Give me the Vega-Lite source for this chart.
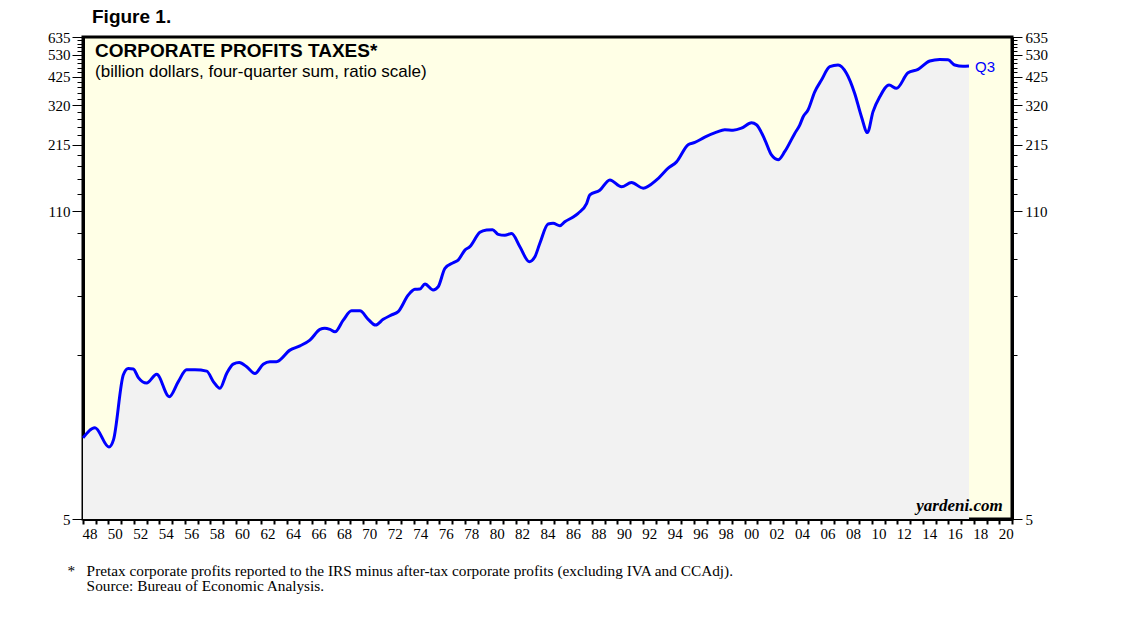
{
  "$schema": "https://vega.github.io/schema/vega-lite/v6.json",
  "width": 929,
  "height": 482,
  "autosize": "none",
  "padding": {"left": 83, "top": 37, "right": 126, "bottom": 102},
  "background": "white",
  "title": {"text": "Figure 1.", "anchor": "start", "frame": "group", "dx": 9, "offset": 3, "font": "Liberation Sans", "fontSize": 19, "fontWeight": "bold", "color": "black"},
  "config": {
    "view": {"fill": "#FFFFE6", "stroke": "black", "strokeWidth": 3},
    "axis": {"labelFont": "Liberation Serif", "labelColor": "black", "tickColor": "black", "domainColor": "black", "domainWidth": 3, "labelOverlap": false, "labelFlush": false, "labelBound": false, "grid": false, "zindex": 1}
  },
  "datasets": {
    "taxes": [
      {"year": 1948.0, "value": 11.3}, {"year": 1948.94, "value": 12.5}, {"year": 1950.04, "value": 10.3}, {"year": 1950.4, "value": 11.1},
      {"year": 1951.17, "value": 21.3}, {"year": 1951.56, "value": 22.7}, {"year": 1951.95, "value": 22.6}, {"year": 1952.35, "value": 20.7},
      {"year": 1953.0, "value": 19.6}, {"year": 1953.79, "value": 21.4}, {"year": 1954.78, "value": 17.1}, {"year": 1955.49, "value": 19.9},
      {"year": 1956.14, "value": 22.4}, {"year": 1956.8, "value": 22.4}, {"year": 1957.72, "value": 22.1}, {"year": 1958.24, "value": 19.9},
      {"year": 1958.76, "value": 18.6}, {"year": 1959.29, "value": 21.6}, {"year": 1959.8, "value": 23.7}, {"year": 1960.28, "value": 24.1},
      {"year": 1960.86, "value": 23.1}, {"year": 1961.51, "value": 21.6}, {"year": 1962.16, "value": 23.7}, {"year": 1962.69, "value": 24.3},
      {"year": 1963.2, "value": 24.3}, {"year": 1964.26, "value": 27.3}, {"year": 1965.05, "value": 28.5}, {"year": 1965.83, "value": 30.2},
      {"year": 1966.62, "value": 33.6}, {"year": 1967.0, "value": 34.0}, {"year": 1967.4, "value": 33.6}, {"year": 1967.8, "value": 32.8},
      {"year": 1968.45, "value": 36.9}, {"year": 1969.1, "value": 40.5}, {"year": 1969.76, "value": 40.5}, {"year": 1970.41, "value": 37.2},
      {"year": 1970.99, "value": 35.1}, {"year": 1971.59, "value": 37.2}, {"year": 1972.25, "value": 38.9}, {"year": 1972.77, "value": 40.2},
      {"year": 1973.56, "value": 47.5}, {"year": 1974.08, "value": 50.3}, {"year": 1974.47, "value": 50.4}, {"year": 1974.87, "value": 53.1},
      {"year": 1975.52, "value": 50.0}, {"year": 1975.91, "value": 51.6}, {"year": 1976.44, "value": 62.1}, {"year": 1977.09, "value": 65.7},
      {"year": 1977.48, "value": 67.5}, {"year": 1978.01, "value": 74.6}, {"year": 1978.4, "value": 77.2}, {"year": 1979.19, "value": 89.2},
      {"year": 1979.71, "value": 91.3}, {"year": 1980.18, "value": 91.6}, {"year": 1980.62, "value": 87.4}, {"year": 1981.15, "value": 86.5},
      {"year": 1981.68, "value": 88.1}, {"year": 1982.33, "value": 77.2}, {"year": 1983.06, "value": 66.4}, {"year": 1983.51, "value": 69.8},
      {"year": 1983.9, "value": 79.9}, {"year": 1984.55, "value": 96.9}, {"year": 1984.94, "value": 97.6}, {"year": 1985.47, "value": 95.3},
      {"year": 1985.86, "value": 99.2}, {"year": 1986.52, "value": 104}, {"year": 1986.91, "value": 108}, {"year": 1987.57, "value": 119},
      {"year": 1987.83, "value": 130}, {"year": 1988.61, "value": 136}, {"year": 1989.4, "value": 151}, {"year": 1990.32, "value": 141},
      {"year": 1991.1, "value": 147}, {"year": 1992.02, "value": 139}, {"year": 1993.07, "value": 151}, {"year": 1993.98, "value": 170},
      {"year": 1994.64, "value": 181}, {"year": 1995.55, "value": 215}, {"year": 1996.08, "value": 220}, {"year": 1996.86, "value": 232},
      {"year": 1997.78, "value": 244}, {"year": 1998.43, "value": 250}, {"year": 1999.08, "value": 249}, {"year": 1999.74, "value": 254},
      {"year": 2000.53, "value": 268}, {"year": 2000.92, "value": 263}, {"year": 2001.58, "value": 226}, {"year": 2002.1, "value": 194},
      {"year": 2002.62, "value": 185}, {"year": 2003.15, "value": 201}, {"year": 2003.93, "value": 241}, {"year": 2004.32, "value": 262},
      {"year": 2004.59, "value": 285}, {"year": 2004.97, "value": 305}, {"year": 2005.5, "value": 366}, {"year": 2006.03, "value": 412},
      {"year": 2006.68, "value": 471}, {"year": 2007.33, "value": 479}, {"year": 2007.99, "value": 441}, {"year": 2008.64, "value": 360},
      {"year": 2009.17, "value": 285}, {"year": 2009.64, "value": 243}, {"year": 2010.08, "value": 300}, {"year": 2010.61, "value": 348},
      {"year": 2011.34, "value": 392}, {"year": 2011.92, "value": 379}, {"year": 2012.83, "value": 443}, {"year": 2013.62, "value": 459},
      {"year": 2014.54, "value": 499}, {"year": 2015.32, "value": 507}, {"year": 2015.97, "value": 505}, {"year": 2016.5, "value": 479},
      {"year": 2017.15, "value": 473}, {"year": 2017.62, "value": 474}
    ]
  },
  "layer": [
    {
      "data": {"name": "taxes"},
      "mark": {"type": "area", "fill": "#F2F2F2", "interpolate": "monotone"},
      "encoding": {
        "x": {
          "field": "year", "type": "quantitative",
          "scale": {"domain": [1948, 2021], "nice": false, "zero": false},
          "axis": {
            "orient": "bottom",
            "values": [1948,1949,1950,1951,1952,1953,1954,1955,1956,1957,1958,1959,1960,1961,1962,1963,1964,1965,1966,1967,1968,1969,1970,1971,1972,1973,1974,1975,1976,1977,1978,1979,1980,1981,1982,1983,1984,1985,1986,1987,1988,1989,1990,1991,1992,1993,1994,1995,1996,1997,1998,1999,2000,2001,2002,2003,2004,2005,2006,2007,2008,2009,2010,2011,2012,2013,2014,2015,2016,2017,2018,2019,2020,2021],
            "labelExpr": "datum.value % 2 == 0 && datum.value <= 2020 ? format(datum.value % 100, '02d') : ''",
            "labelOffset": 6.4, "tickSize": 5, "tickWidth": 2, "labelFontSize": 15, "labelPadding": 2,
            "title": ["*\u00a0\u00a0\u00a0Pretax corporate profits reported to the IRS minus after-tax corporate profits (excluding IVA and CCAdj).", "\u200b\u00a0\u00a0\u00a0\u00a0\u00a0Source: Bureau of Economic Analysis."],
            "titleFont": "Liberation Serif", "titleFontSize": 15.3, "titleFontWeight": "normal", "titleColor": "black",
            "titleAnchor": "start", "titleAlign": "left", "titleX": -16, "titleY": 44, "titleBaseline": "top", "titleLineHeight": 15.5
          }
        },
        "y": {
          "field": "value", "type": "quantitative",
          "scale": {"type": "log", "domain": [5, 635], "nice": false},
          "axis": {
            "orient": "left", "title": null, "format": "d",
            "values": [5,26,47,68,89,110,131,152,173,194,215,236,257,278,299,320,341,362,383,404,425,446,467,488,509,530,551,572,593,614,635],
            "labelExpr": "indexof([5,110,215,320,425,530,635], datum.value) >= 0 ? datum.label : ''",
            "tickSize": {"condition": {"test": "indexof([5,110,215,320,425,530,635], datum.value) >= 0", "value": 11}, "value": 6},
            "labelFontSize": 15, "labelPadding": 2
          }
        },
        "y2": {"datum": 5}
      }
    },
    {
      "data": {"name": "taxes"},
      "mark": {"type": "line", "color": "#0000FF", "strokeWidth": 3, "interpolate": "monotone"},
      "encoding": {
        "x": {"field": "year", "type": "quantitative", "scale": {"domain": [1948, 2021], "nice": false, "zero": false}, "axis": null},
        "y": {
          "field": "value", "type": "quantitative",
          "scale": {"type": "log", "domain": [5, 635], "nice": false},
          "axis": {
            "orient": "right", "title": null, "format": "d",
            "values": [5,26,47,68,89,110,131,152,173,194,215,236,257,278,299,320,341,362,383,404,425,446,467,488,509,530,551,572,593,614,635],
            "labelExpr": "indexof([5,110,215,320,425,530,635], datum.value) >= 0 ? datum.label : ''",
            "tickSize": {"condition": {"test": "indexof([5,110,215,320,425,530,635], datum.value) >= 0", "value": 10}, "value": 5},
            "labelFontSize": 15, "labelPadding": 3
          }
        }
      }
    },
    {
      "data": {"name": "taxes"},
      "transform": [{"filter": "datum.year > 2017.5"}],
      "mark": {"type": "text", "text": "Q3", "align": "left", "baseline": "middle", "dx": 6, "dy": 1, "color": "#0000FF", "font": "Liberation Sans", "fontSize": 15},
      "encoding": {
        "x": {"field": "year", "type": "quantitative", "scale": {"domain": [1948, 2021], "nice": false, "zero": false}, "axis": null},
        "y": {"field": "value", "type": "quantitative", "scale": {"type": "log", "domain": [5, 635], "nice": false}, "axis": null}
      }
    },
    {
      "data": {"values": [{"label": "CORPORATE PROFITS TAXES*"}]},
      "mark": {"type": "text", "align": "left", "baseline": "alphabetic", "font": "Liberation Sans", "fontSize": 19, "fontWeight": "bold", "color": "black"},
      "encoding": {
        "x": {"datum": 1948.95, "type": "quantitative", "scale": {"domain": [1948, 2021], "nice": false, "zero": false}, "axis": null},
        "y": {"datum": 517, "type": "quantitative", "scale": {"type": "log", "domain": [5, 635], "nice": false}, "axis": null},
        "text": {"field": "label"}
      }
    },
    {
      "data": {"values": [{"label": "(billion dollars, four-quarter sum, ratio scale)"}]},
      "mark": {"type": "text", "align": "left", "baseline": "alphabetic", "font": "Liberation Sans", "fontSize": 17, "color": "black"},
      "encoding": {
        "x": {"datum": 1948.95, "type": "quantitative", "scale": {"domain": [1948, 2021], "nice": false, "zero": false}, "axis": null},
        "y": {"datum": 425, "type": "quantitative", "scale": {"type": "log", "domain": [5, 635], "nice": false}, "axis": null},
        "text": {"field": "label"}
      }
    },
    {
      "data": {"values": [{"label": "yardeni.com"}]},
      "mark": {"type": "text", "align": "right", "baseline": "alphabetic", "font": "Liberation Serif", "fontSize": 17, "fontWeight": "bold", "fontStyle": "italic", "color": "black"},
      "encoding": {
        "x": {"datum": 2020.27, "type": "quantitative", "scale": {"domain": [1948, 2021], "nice": false, "zero": false}, "axis": null},
        "y": {"datum": 5.42, "type": "quantitative", "scale": {"type": "log", "domain": [5, 635], "nice": false}, "axis": null},
        "text": {"field": "label"}
      }
    }
  ],
  "resolve": {"axis": {"x": "independent", "y": "independent"}}
}
